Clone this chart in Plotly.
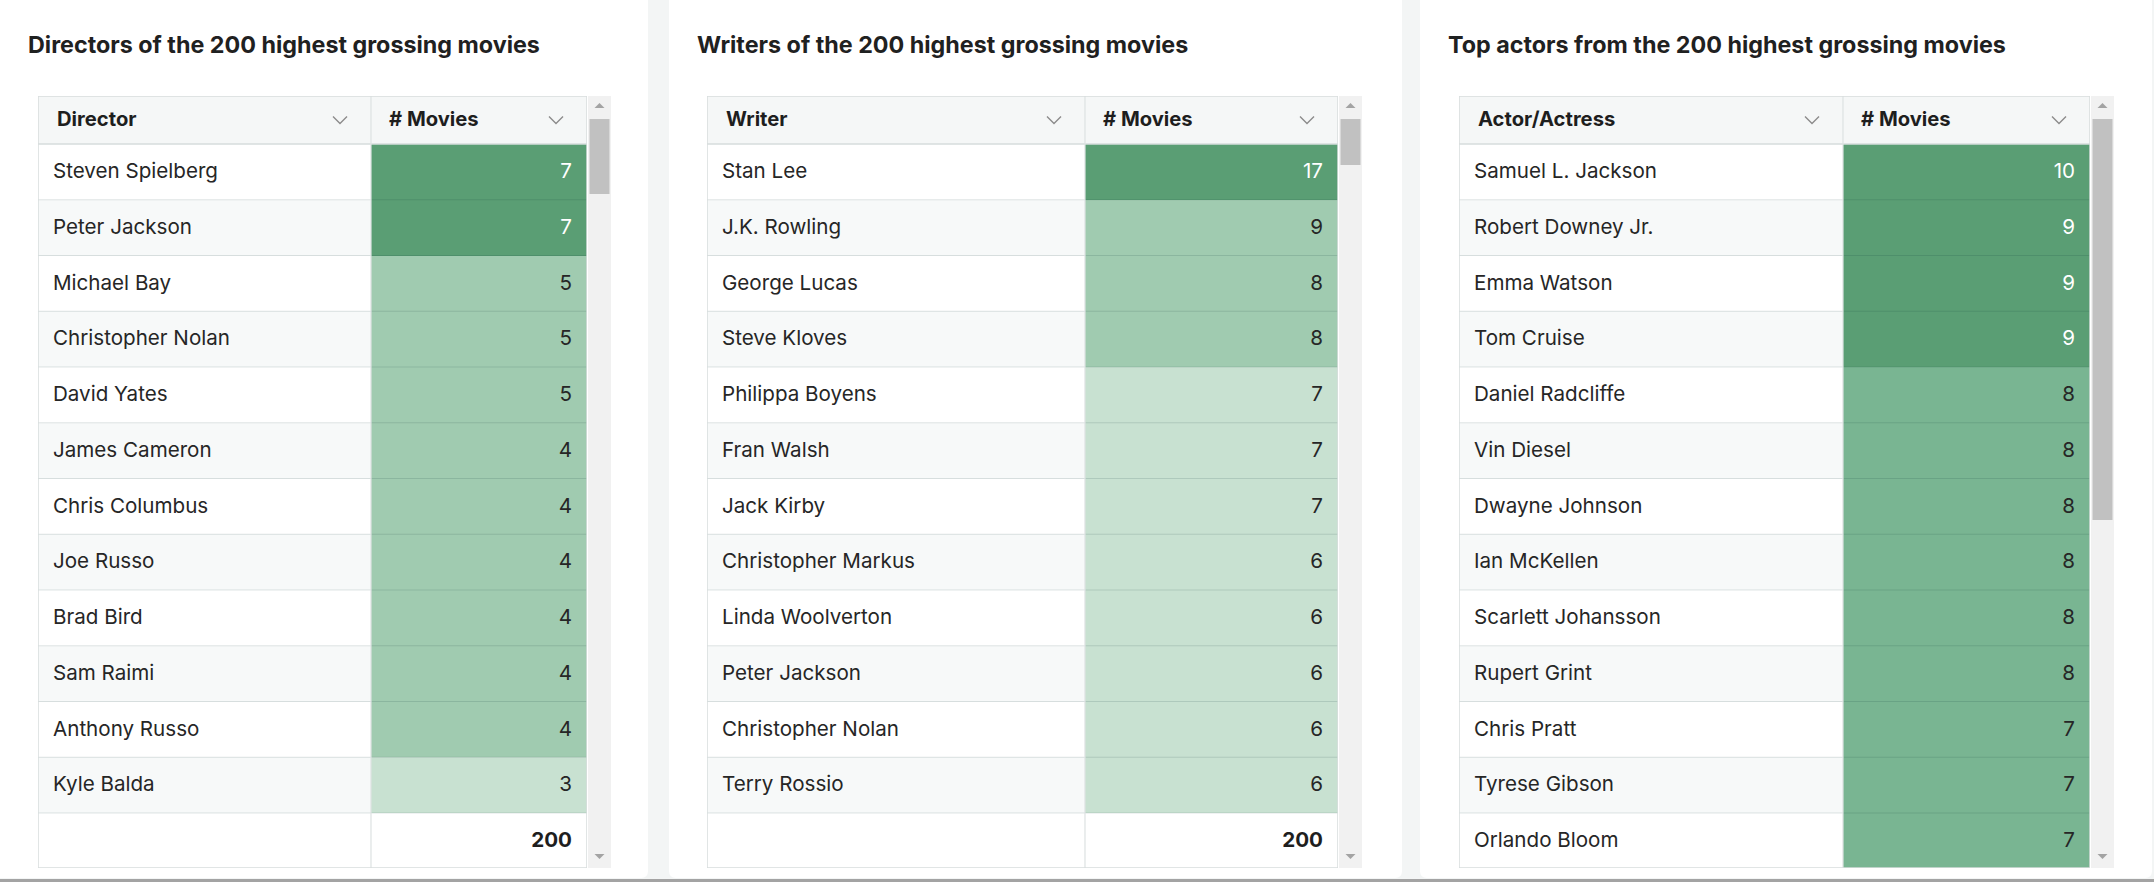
import plotly.graph_objects as go

# ---------------- data ----------------
directors = ["Steven Spielberg", "Peter Jackson", "Michael Bay", "Christopher Nolan",
             "David Yates", "James Cameron", "Chris Columbus", "Joe Russo",
             "Brad Bird", "Sam Raimi", "Anthony Russo", "Kyle Balda"]
director_movies = [7, 7, 5, 5, 5, 4, 4, 4, 4, 4, 4, 3]

writers = ["Stan Lee", "J.K. Rowling", "George Lucas", "Steve Kloves", "Philippa Boyens",
           "Fran Walsh", "Jack Kirby", "Christopher Markus", "Linda Woolverton",
           "Peter Jackson", "Christopher Nolan", "Terry Rossio"]
writer_movies = [17, 9, 8, 8, 7, 7, 7, 6, 6, 6, 6, 6]

actors = ["Samuel L. Jackson", "Robert Downey Jr.", "Emma Watson", "Tom Cruise",
          "Daniel Radcliffe", "Vin Diesel", "Dwayne Johnson", "Ian McKellen",
          "Scarlett Johansson", "Rupert Grint", "Chris Pratt", "Tyrese Gibson",
          "Orlando Bloom"]
actor_movies = [10, 9, 9, 9, 8, 8, 8, 8, 8, 8, 7, 7, 7]

total_movies = 200

titles = ["Directors of the 200 highest grossing movies",
          "Writers of the 200 highest grossing movies",
          "Top actors from the 200 highest grossing movies"]
name_headers = ["Director", "Writer", "Actor/Actress"]
count_header = "# Movies"

# ---------------- style ----------------
W, H = 2154, 882
FONT = "Inter"
CELL_SIZE = 20.6
HEAD_SIZE = 20.2
TITLE_SIZE = 23.3
TEXT_DARK = "#262626"

LEVEL_COLORS = ["#ffffff",  # 0 white row
                "#f7f9f9",  # 1 striped row
                "#f5f7f7",  # 2 header
                "#c8e1d1",  # 3 light green
                "#a0cbb0",  # 4 medium green
                "#79b592",  # 5 medium-dark green
                "#5a9e74"]  # 6 dark green
NL = len(LEVEL_COLORS)
colorscale = []
for i, c in enumerate(LEVEL_COLORS):
    colorscale.append([i / NL, c])
    colorscale.append([(i + 1) / NL, c])

HEADER_H = 48
ROW_H = 55.75
FOOTER_H = 55
TABLE_TOP = 96
TABLE_BOTTOM = 868
TEXT_SHIFT = 1.2

panels = [
    dict(title=titles[0], header=name_headers[0], names=directors, values=director_movies,
         footer=True, rules=[(6, 6), (4, 4), (0, 3)],
         card=(-12, 648), title_x=26, x0=38, xs=371, x1=587, thumb=(119, 194)),
    dict(title=titles[1], header=name_headers[1], names=writers, values=writer_movies,
         footer=True, rules=[(10, 6), (8, 4), (0, 3)],
         card=(669, 1402), title_x=695, x0=707, xs=1085, x1=1338, thumb=(119, 165)),
    dict(title=titles[2], header=name_headers[2], names=actors, values=actor_movies,
         footer=False, rules=[(9, 6), (0, 5)],
         card=(1420, 2152), title_x=1446, x0=1459, xs=1843, x1=2090, thumb=(119, 520)),
]


def fx(px):
    return px / W


def fy(py):
    return 1 - py / H


def level_of(v, rules):
    for thr, lev in rules:
        if v >= thr:
            return lev
    return rules[-1][1]


def rounded_rect(x0, y0, x1, y1, r):
    rx, ry = r / W, r / H
    X0, X1, Y0, Y1 = fx(x0), fx(x1), fy(y0), fy(y1)
    return (f"M{X0+rx},{Y0} L{X1-rx},{Y0} Q{X1},{Y0} {X1},{Y0-ry} "
            f"L{X1},{Y1+ry} Q{X1},{Y1} {X1-rx},{Y1} L{X0+rx},{Y1} "
            f"Q{X0},{Y1} {X0},{Y1+ry} L{X0},{Y0-ry} Q{X0},{Y0} {X0+rx},{Y0} Z")


fig = go.Figure()
shapes = []
annotations = []
layout_axes = {}

for k, p in enumerate(panels, start=1):
    xa, ya = f"x{k}" if k > 1 else "x", f"y{k}" if k > 1 else "y"
    xkey = "xaxis" if k == 1 else f"xaxis{k}"
    ykey = "yaxis" if k == 1 else f"yaxis{k}"
    tw = p["x1"] - p["x0"]
    th = TABLE_BOTTOM - TABLE_TOP
    cw = p["xs"] - p["x0"]
    layout_axes[xkey] = dict(domain=[fx(p["x0"]), fx(p["x1"])], range=[0, tw],
                             visible=False, fixedrange=True)
    layout_axes[ykey] = dict(domain=[fy(TABLE_BOTTOM), fy(TABLE_TOP)], range=[th, 0],
                             visible=False, fixedrange=True)

    names, values = p["names"], p["values"]
    n = len(names)
    y_edges = [0, HEADER_H] + [HEADER_H + ROW_H * (r + 1) for r in range(n)]
    levels = [level_of(v, p["rules"]) for v in values]
    z = [[2, 2]] + [[r % 2, lev] for r, lev in enumerate(levels)]
    if p["footer"]:
        y_edges.append(y_edges[-1] + FOOTER_H)
        z.append([0, 0])

    c0, c1 = p["card"]
    shapes.append(dict(type="path", xref="paper", yref="paper", layer="below",
                       path=rounded_rect(c0, -8, c1, 878, 7),
                       fillcolor="#ffffff", line=dict(width=0)))

    fig.add_trace(go.Heatmap(x=[0, cw, tw], y=y_edges, z=z, colorscale=colorscale,
                             zmin=-0.5, zmax=NL - 0.5, showscale=False,
                             hoverinfo="skip", xaxis=xa, yaxis=ya))

    centers = [(y_edges[r + 1] + y_edges[r + 2]) / 2 + TEXT_SHIFT for r in range(n)]
    txt_colors = ["#ffffff" if lev == 6 else TEXT_DARK for lev in levels]

    fig.add_trace(go.Scatter(x=[15] * n, y=centers, text=names, mode="text",
                             textposition="middle right", hoverinfo="skip",
                             textfont=dict(family=FONT, size=CELL_SIZE, color=TEXT_DARK),
                             xaxis=xa, yaxis=ya, showlegend=False))
    fig.add_trace(go.Scatter(x=[tw - 15] * n, y=centers, text=[str(v) for v in values],
                             mode="text", textposition="middle left", hoverinfo="skip",
                             textfont=dict(family=FONT, size=CELL_SIZE, color=txt_colors),
                             xaxis=xa, yaxis=ya, showlegend=False))
    fig.add_trace(go.Scatter(x=[19, cw + 18], y=[HEADER_H / 2 + TEXT_SHIFT] * 2,
                             text=[f"<b>{p['header']}</b>", f"<b>{count_header}</b>"],
                             mode="text", textposition="middle right", hoverinfo="skip",
                             textfont=dict(family=FONT, size=HEAD_SIZE, color="#1e1e1e"),
                             xaxis=xa, yaxis=ya, showlegend=False))
    cx = []
    cy = []
    for right in (cw, tw):
        c = right - 31
        cx += [c - 7, c, c + 7, None]
        cy += [HEADER_H / 2 - 3.5, HEADER_H / 2 + 3.5, HEADER_H / 2 - 3.5, None]
    fig.add_trace(go.Scatter(x=cx, y=cy, mode="lines", hoverinfo="skip",
                             line=dict(color="#8c8c8c", width=1.4),
                             xaxis=xa, yaxis=ya, showlegend=False))
    if p["footer"]:
        fy_c = (y_edges[-2] + y_edges[-1]) / 2 + TEXT_SHIFT
        fig.add_trace(go.Scatter(x=[tw - 15], y=[fy_c], text=[f"<b>{total_movies}</b>"],
                                 mode="text", textposition="middle left", hoverinfo="skip",
                                 textfont=dict(family=FONT, size=CELL_SIZE, color="#1e1e1e"),
                                 xaxis=xa, yaxis=ya, showlegend=False))

    for yv in y_edges[2:-1]:
        shapes.append(dict(type="line", xref=xa, yref=ya, x0=0, x1=tw, y0=yv, y1=yv,
                           line=dict(color="rgba(0,45,45,0.13)", width=1.2)))
    shapes.append(dict(type="line", xref=xa, yref=ya, x0=0, x1=tw, y0=HEADER_H, y1=HEADER_H,
                       line=dict(color="#d6dcdc", width=1.5)))
    shapes.append(dict(type="line", xref=xa, yref=ya, x0=cw, x1=cw, y0=0, y1=th,
                       line=dict(color="#dde2e2", width=1.2)))
    shapes.append(dict(type="rect", xref=xa, yref=ya, x0=0, x1=tw, y0=0, y1=th,
                       line=dict(color="#d8dddd", width=1.5)))

    sx0, sx1 = p["x1"] + 1, p["x1"] + 24
    shapes.append(dict(type="rect", xref="paper", yref="paper",
                       x0=fx(sx0), x1=fx(sx1), y0=fy(TABLE_BOTTOM), y1=fy(TABLE_TOP),
                       fillcolor="#f1f1f1", line=dict(width=0)))
    t0, t1 = p["thumb"]
    shapes.append(dict(type="rect", xref="paper", yref="paper",
                       x0=fx(sx0 + 1.5), x1=fx(sx1 - 1.5), y0=fy(t1), y1=fy(t0),
                       fillcolor="#c1c1c1", line=dict(width=0)))
    scx = (sx0 + sx1) / 2
    shapes.append(dict(type="path", xref="paper", yref="paper",
                       path=f"M{fx(scx-5)},{fy(108)} L{fx(scx+5)},{fy(108)} L{fx(scx)},{fy(103)} Z",
                       fillcolor="#a3a3a3", line=dict(width=0)))
    shapes.append(dict(type="path", xref="paper", yref="paper",
                       path=f"M{fx(scx-5)},{fy(854)} L{fx(scx+5)},{fy(854)} L{fx(scx)},{fy(859)} Z",
                       fillcolor="#a3a3a3", line=dict(width=0)))

    annotations.append(dict(text=f"<b>{p['title']}</b>", xref="paper", yref="paper",
                            x=fx(p["title_x"]), y=fy(45), xanchor="left", yanchor="middle",
                            showarrow=False,
                            font=dict(family=FONT, size=TITLE_SIZE, color="#1f2121")))

shapes.append(dict(type="line", xref="paper", yref="paper", x0=0, x1=1,
                   y0=fy(880.5), y1=fy(880.5), line=dict(color="#a3a3a3", width=3)))

fig.update_layout(width=W, height=H, autosize=False,
                  margin=dict(l=0, r=0, t=0, b=0, pad=0),
                  paper_bgcolor="#f3f5f5", plot_bgcolor="rgba(0,0,0,0)",
                  showlegend=False, shapes=shapes, annotations=annotations,
                  font=dict(family=FONT), **layout_axes)

fig.write_html("out.html", config={"displayModeBar": False},
               post_script="document.body.style.margin='0';document.body.style.overflow='hidden';")
